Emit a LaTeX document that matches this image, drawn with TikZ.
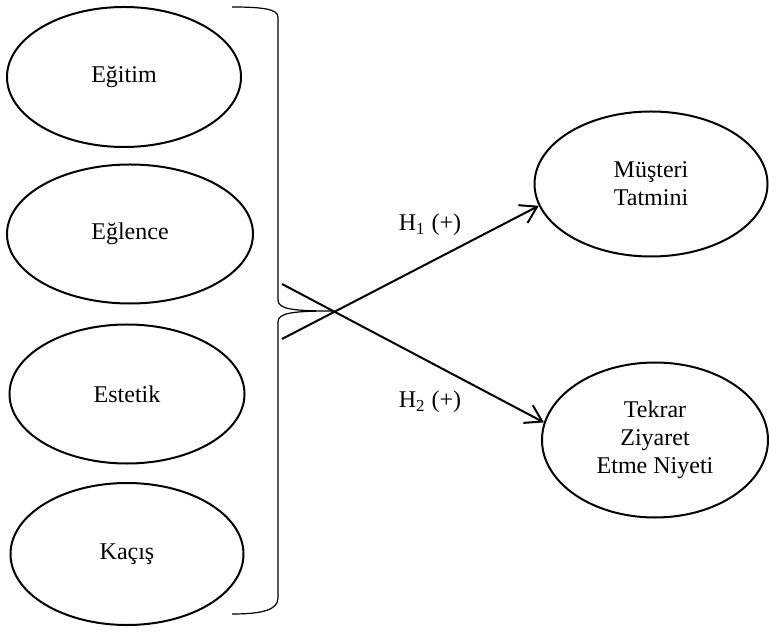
\documentclass[tikz,border=0pt]{standalone}
\usepackage{fontspec}
\setmainfont{Liberation Serif}
\usepackage{tikz}
\usetikzlibrary{shapes.geometric, arrows.meta}
\tikzset{construct/.style={ellipse, draw, line width=1bp, inner sep=0pt,
    align=center, font=\fontsize{12bp}{14bp}\selectfont}}
\tikzset{hyplabel/.style={font=\fontsize{12bp}{14bp}\selectfont}}
\tikzset{hyparrow/.style={line width=1bp, -{Straight Barb[length=8bp, width=10bp]}}}
\tikzset{braceline/.style={line width=0.6bp}}

\begin{document}
\begin{tikzpicture}[x=0.5bp, y=-0.5bp]
    \useasboundingbox (0,0) rectangle (769,633);

    % experience dimensions
    \node[construct, minimum width = 117bp, minimum height = 70bp] (egitim) at (124, 77) {Eğitim};
    \node[construct, minimum width = 123bp, minimum height = 69.5bp] (eglence) at (130, 234) {Eğlence};
    \node[construct, minimum width = 117.5bp, minimum height = 69.5bp] (estetik) at (127, 394) {Estetik};
    \node[construct, minimum width = 116.5bp, minimum height = 71bp] (kacis) at (127, 554) {Kaçış};

    % outcomes
    \node[construct, minimum width = 116.5bp, minimum height = 72.5bp] (tatmin) at (651, 184) {Müşteri\\Tatmini};
    \node[construct, minimum width = 113bp, minimum height = 77.5bp] (niyet) at (655, 440) {Tekrar\\Ziyaret\\Etme Niyeti};

    % brace
    \draw [braceline] (232, 7) .. controls (262, 7) and (278, 9) .. (278, 17)
        -- (278, 300) .. controls (278, 309) and (292, 311) .. (332, 311)
        .. controls (292, 311) and (278, 313) .. (278, 322)
        -- (278, 598) .. controls (278, 610) and (262, 614) .. (232, 614);

    \coordinate (s1) at (282, 339);
    \coordinate (s2) at (282, 284);

    \draw [hyparrow] (s1) -- (tatmin.191);
    \draw [hyparrow] (s2) -- (niyet.171);

    \node [hyplabel] (h1) at (430, 225) {H\textsubscript{1} (+)};
    \node [hyplabel] (h2) at (430, 402) {H\textsubscript{2} (+)};
\end{tikzpicture}
\end{document}
